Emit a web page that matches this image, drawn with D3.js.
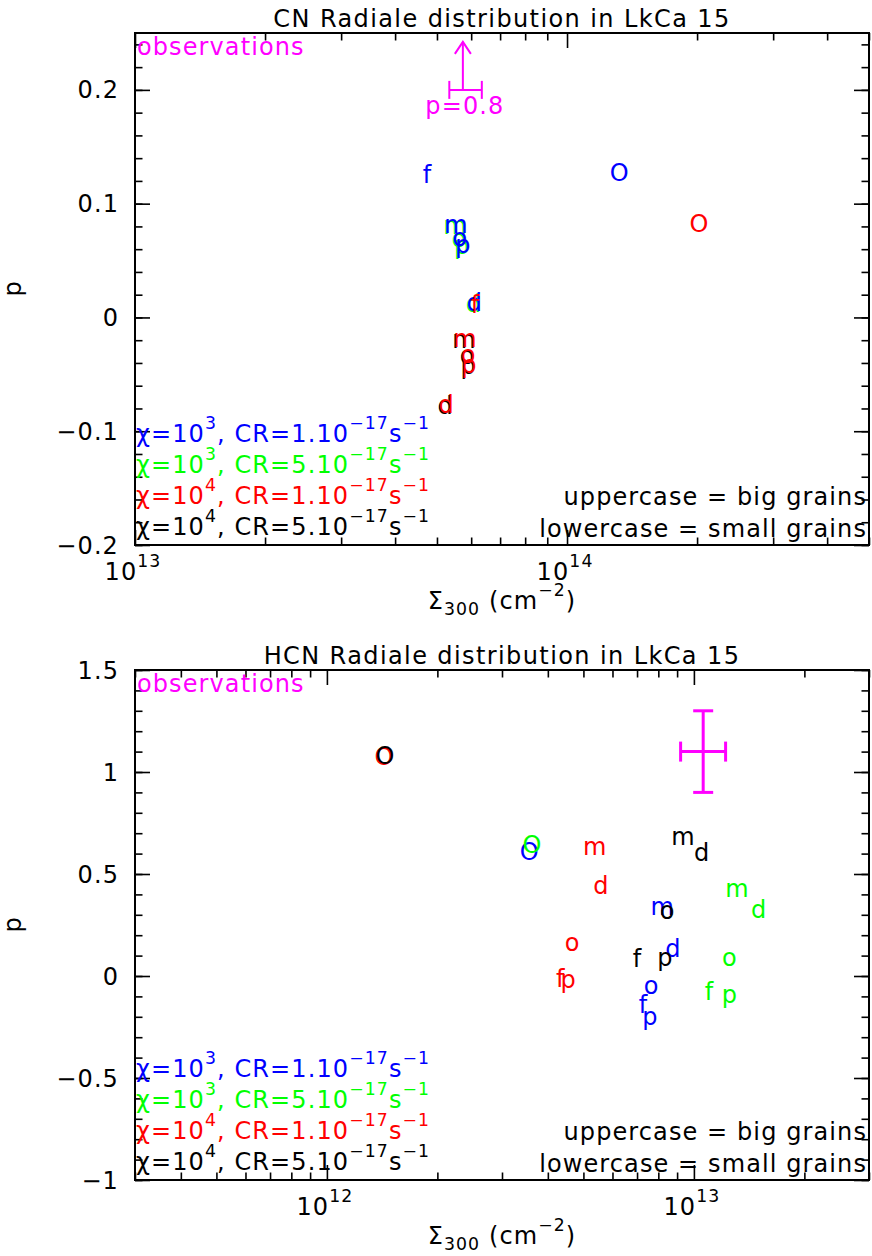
<!DOCTYPE html>
<html>
<head>
<meta charset="utf-8">
<script src="https://cdn.jsdelivr.net/npm/d3@7"></script>
<style>
  html, body { margin: 0; padding: 0; background: #fff; }
  svg { display: block; }
  text { font-family: "DejaVu Sans", sans-serif; }
</style>
</head>
<body>
<svg id="chart" width="872" height="1256"></svg>
<script>
// ---------------- DATA ----------------
const letters = ["O", "f", "m", "o", "p", "d"];
const modelNames = ["blue", "green", "red", "black"];
const modelColors = ["#0000ff", "#00ff00", "#ff0000", "#000000"];
const modelChi = ["3", "3", "4", "4"];
const modelCR = ["1", "5", "1", "5"];

// CN panel (Sigma_300 in cm^-2, p)
const cnBlueSigma  = [1.32e14, 4.74e13, 5.53e13, 5.65e13, 5.74e13, 6.10e13];
const cnBlueP      = [0.120, 0.118, 0.074, 0.063, 0.057, 0.006];
const cnGreenSigma = [null, null, 5.50e13, 5.62e13, 5.70e13, 6.07e13];
const cnGreenP     = [null, null, 0.073, 0.062, 0.056, 0.005];
const cnRedSigma   = [2.02e14, 6.12e13, 5.80e13, 5.90e13, 5.93e13, 5.25e13];
const cnRedP       = [0.075, 0.004, -0.026, -0.040, -0.049, -0.084];
const cnBlackSigma = [null, null, 5.77e13, 5.87e13, 5.90e13, 5.22e13];
const cnBlackP     = [null, null, -0.027, -0.041, -0.050, -0.085];

// HCN panel
const hcnBlueSigma  = [3.56e12, 7.26e12, 8.19e12, 7.64e12, 7.59e12, 8.77e12];
const hcnBlueP      = [0.569, -0.181, 0.299, -0.088, -0.240, 0.093];
const hcnGreenSigma = [3.62e12, 1.10e13, 1.31e13, 1.25e13, 1.25e13, 1.50e13];
const hcnGreenP     = [0.603, -0.118, 0.387, 0.049, -0.132, 0.284];
const hcnRedSigma   = [1.43e12, 4.32e12, 5.37e12, 4.66e12, 4.54e12, 5.58e12];
const hcnRedP       = [1.034, -0.054, 0.593, 0.123, -0.059, 0.402];
const hcnBlackSigma = [1.44e12, 7.00e12, 9.33e12, 8.45e12, 8.34e12, 1.05e13];
const hcnBlackP     = [1.039, 0.044, 0.642, 0.279, 0.049, 0.564];

// Observations
const cnObs  = { sigma: 5.74e13, sigmaLo: 5.34e13, sigmaHi: 6.35e13, p: 0.2, label: "p=0.8" };
const hcnObs = { sigma: 1.06e13, sigmaLo: 9.2e12, sigmaHi: 1.22e13, p: 1.1, pErr: 0.2 };

// Axes
const cnXDomain = [1e13, 5e14];
const cnYDomain = [-0.2, 0.25];
const cnYTicks = [-0.2, -0.1, 0, 0.1, 0.2];
const cnXTickExps = [13, 14];
const hcnXDomain = [3e11, 3e13];
const hcnYDomain = [-1, 1.5];
const hcnYTicks = [-1, -0.5, 0, 0.5, 1, 1.5];
const hcnXTickExps = [12, 13];

const titles = ["CN Radiale distribution in LkCa 15", "HCN Radiale distribution in LkCa 15"];

// ---------------- DRAWING ----------------
const svg = d3.select("#chart");
const FS = 24;
const LS = 1.1;

function richText(g, x, y, parts, opts) {
  const t = g.append("text").attr("x", x).attr("y", y)
    .attr("font-size", FS).attr("letter-spacing", LS)
    .attr("fill", opts.color || "#000")
    .attr("text-anchor", opts.anchor || "start");
  let cur = 0;
  parts.forEach(([s, mode]) => {
    const target = mode === 1 ? -13 : (mode === -1 ? 6 : 0);
    t.append("tspan").attr("dy", target - cur).text(s)
      .attr("font-size", mode === 0 ? FS : FS * 0.72);
    cur = target;
  });
  return t;
}

function panel(cfg) {
  const { left, right, top, bottom } = cfg;
  const g = svg.append("g");
  const x = d3.scaleLog().domain(cfg.xDomain).range([left, right]);
  const y = d3.scaleLinear().domain(cfg.yDomain).range([bottom, top]);

  const xMajor = cfg.xExps.map(e => Math.pow(10, e)).filter(v => v >= cfg.xDomain[0] && v <= cfg.xDomain[1]);
  const xMinor = [];
  for (let e = Math.floor(Math.log10(cfg.xDomain[0])); e <= Math.ceil(Math.log10(cfg.xDomain[1])); e++) {
    for (let k = 2; k <= 9; k++) {
      const v = k * Math.pow(10, e);
      if (v >= cfg.xDomain[0] * 0.999 && v <= cfg.xDomain[1] * 1.001) xMinor.push(v);
    }
  }
  const yMinor = d3.range(cfg.yDomain[0], cfg.yDomain[1] + 1e-9, cfg.yMinorStep);

  const addAxis = (axis, tr) => {
    const a = g.append("g").attr("transform", tr).call(axis);
    a.select(".domain").remove();
    a.selectAll("text").remove();
    a.selectAll("line").attr("stroke", "#000").attr("stroke-width", 1.6);
  };
  const MAJ = 15, MIN = 7.5;
  addAxis(d3.axisBottom(x).tickValues(xMinor).tickSize(-MIN), `translate(0,${bottom})`);
  addAxis(d3.axisBottom(x).tickValues(xMajor).tickSize(-MAJ), `translate(0,${bottom})`);
  addAxis(d3.axisTop(x).tickValues(xMinor).tickSize(-MIN), `translate(0,${top})`);
  addAxis(d3.axisTop(x).tickValues(xMajor).tickSize(-MAJ), `translate(0,${top})`);
  addAxis(d3.axisLeft(y).tickValues(yMinor).tickSize(-MIN), `translate(${left},0)`);
  addAxis(d3.axisLeft(y).tickValues(cfg.yTicks).tickSize(-MAJ), `translate(${left},0)`);
  addAxis(d3.axisRight(y).tickValues(yMinor).tickSize(-MIN), `translate(${right},0)`);
  addAxis(d3.axisRight(y).tickValues(cfg.yTicks).tickSize(-MAJ), `translate(${right},0)`);

  g.append("rect").attr("x", left).attr("y", top).attr("width", right - left).attr("height", bottom - top)
    .attr("fill", "none").attr("stroke", "#000").attr("stroke-width", 2);

  cfg.yTicks.forEach(v => {
    g.append("text").attr("x", left - 16).attr("y", y(v) + 8.5)
      .attr("text-anchor", "end").attr("font-size", FS).attr("letter-spacing", LS)
      .text(String(v).replace("-", "\u2212"));
  });
  xMajor.forEach(v => {
    richText(g, x(v) - 2, bottom + 35, [["10", 0], [String(Math.round(Math.log10(v))), 1]], { anchor: "middle" });
  });
  richText(g, (left + right) / 2, bottom + 64, [["\u03a3", 0], ["300", -1], [" (cm", 0], ["\u22122", 1], [")", 0]], { anchor: "middle" });
  g.append("text").attr("transform", `translate(21,${(top + bottom) / 2}) rotate(-90)`)
    .attr("text-anchor", "middle").attr("font-size", FS).text("p");
  g.append("text").attr("x", (left + right) / 2).attr("y", top - 6).attr("text-anchor", "middle")
    .attr("font-size", FS).attr("letter-spacing", LS + 0.3).text(cfg.title);

  g.append("text").attr("x", left + 2).attr("y", top + 22).attr("font-size", FS).attr("letter-spacing", LS)
    .attr("fill", "#ff00ff").text("observations");

  cfg.order.forEach(mi => {
    const sig = cfg.sigma[mi], pp = cfg.p[mi];
    letters.forEach((L, i) => {
      if (sig[i] == null) return;
      g.append("text").attr("x", x(sig[i])).attr("y", y(pp[i]))
        .attr("text-anchor", "middle").attr("font-size", FS)
        .attr("fill", modelColors[mi]).text(L);
    });
  });

  modelNames.forEach((n, i) => {
    richText(g, left + 1, bottom - 103 + i * 31,
      [["\u03c7=10", 0], [modelChi[i], 1], [",  CR=" + modelCR[i] + ".10", 0], ["\u221217", 1], ["s", 0], ["\u22121", 1]],
      { color: modelColors[i] });
  });
  g.append("text").attr("x", right - 2).attr("y", bottom - 40).attr("text-anchor", "end")
    .attr("font-size", FS).attr("letter-spacing", LS).text("uppercase = big grains");
  g.append("text").attr("x", right - 2).attr("y", bottom - 8).attr("text-anchor", "end")
    .attr("font-size", FS).attr("letter-spacing", LS).text("lowercase = small grains");

  return { g, x, y };
}

const cnPanel = panel({
  left: 135, right: 869, top: 33, bottom: 545,
  xDomain: cnXDomain, yDomain: cnYDomain, yTicks: cnYTicks, yMinorStep: 0.02, xExps: cnXTickExps,
  title: titles[0],
  sigma: [cnBlueSigma, cnGreenSigma, cnRedSigma, cnBlackSigma],
  p: [cnBlueP, cnGreenP, cnRedP, cnBlackP],
  order: [3, 1, 0, 2]
});
{
  const { g, x, y } = cnPanel;
  const mg = "#ff00ff";
  const cx = x(cnObs.sigma), cy = y(cnObs.p);
  const tipY = cy - 48;
  g.append("line").attr("x1", x(cnObs.sigmaLo)).attr("x2", x(cnObs.sigmaHi)).attr("y1", cy).attr("y2", cy)
    .attr("stroke", mg).attr("stroke-width", 2);
  [cnObs.sigmaLo, cnObs.sigmaHi].forEach(v => {
    g.append("line").attr("x1", x(v)).attr("x2", x(v)).attr("y1", cy - 9).attr("y2", cy + 9)
      .attr("stroke", mg).attr("stroke-width", 2);
  });
  g.append("line").attr("x1", cx).attr("x2", cx).attr("y1", cy).attr("y2", tipY)
    .attr("stroke", mg).attr("stroke-width", 2);
  g.append("path").attr("d", `M${cx - 8},${tipY + 12} L${cx},${tipY} L${cx + 8},${tipY + 12}`)
    .attr("fill", "none").attr("stroke", mg).attr("stroke-width", 2);
  g.append("text").attr("x", cx + 2).attr("y", cy + 24).attr("text-anchor", "middle")
    .attr("font-size", FS).attr("letter-spacing", LS).attr("fill", mg).text(cnObs.label);
}

const hcnPanel = panel({
  left: 135, right: 869, top: 670, bottom: 1180,
  xDomain: hcnXDomain, yDomain: hcnYDomain, yTicks: hcnYTicks, yMinorStep: 0.1, xExps: hcnXTickExps,
  title: titles[1],
  sigma: [hcnBlueSigma, hcnGreenSigma, hcnRedSigma, hcnBlackSigma],
  p: [hcnBlueP, hcnGreenP, hcnRedP, hcnBlackP],
  order: [0, 1, 2, 3]
});
{
  const { g, x, y } = hcnPanel;
  const mg = "#ff00ff";
  const cx = x(hcnObs.sigma), cy = y(hcnObs.p);
  const y1 = y(hcnObs.p + hcnObs.pErr), y2 = y(hcnObs.p - hcnObs.pErr);
  const xl = x(hcnObs.sigmaLo), xr = x(hcnObs.sigmaHi);
  const seg = (a, b, c, d) => g.append("line").attr("x1", a).attr("y1", b).attr("x2", c).attr("y2", d)
    .attr("stroke", mg).attr("stroke-width", 3);
  seg(xl, cy, xr, cy);
  seg(cx, y1, cx, y2);
  seg(cx - 10, y1, cx + 10, y1);
  seg(cx - 10, y2, cx + 10, y2);
  seg(xl, cy - 10, xl, cy + 10);
  seg(xr, cy - 10, xr, cy + 10);
}
</script>
</body>
</html>
